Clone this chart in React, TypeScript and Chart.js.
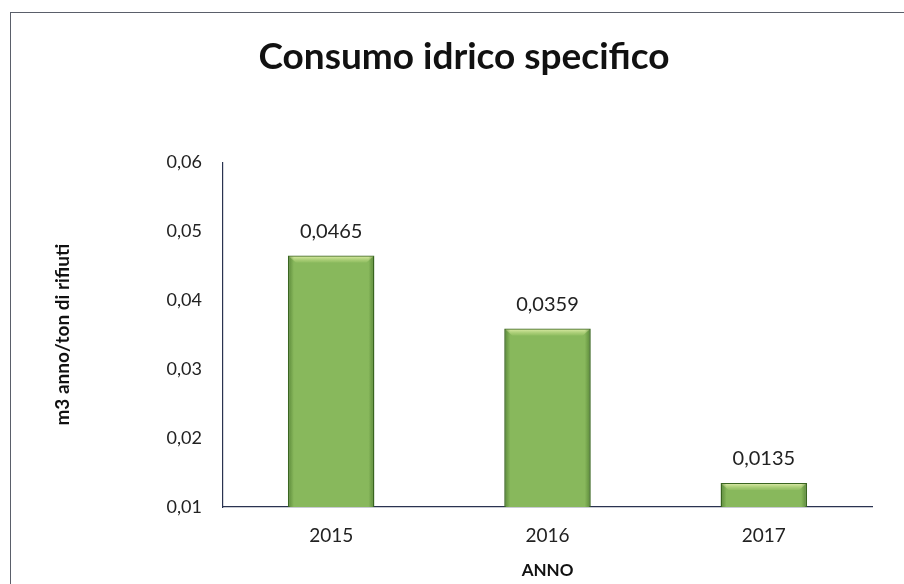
import React, { useEffect, useRef } from "react";
import { Chart, registerables } from "chart.js";

Chart.register(...registerables);

const categories = ["2015", "2016", "2017"];
const values = [0.0465, 0.0359, 0.0135];
const valueLabels = ["0,0465", "0,0359", "0,0135"];
const yMin = 0.01;
const yMax = 0.06;
const yStep = 0.01;
const chartTitle = "Consumo idrico specifico";
const yTitle = "m3 anno/ton di rifiuti";
const xTitle = "ANNO";

const FONT = "Lato, 'Open Sans', sans-serif";

const bevelPlugin = {
  id: "bevel",
  afterDatasetsDraw(chart: any) {
    const ctx = chart.ctx;
    const meta = chart.getDatasetMeta(0);
    const area = chart.chartArea;
    ctx.save();
    ctx.beginPath();
    ctx.rect(area.left, area.top, area.right - area.left, area.bottom - area.top);
    ctx.clip();
    meta.data.forEach((bar: any) => {
      const w = bar.width;
      const left = bar.x - w / 2;
      const top = bar.y;
      const bottom = Math.min(bar.base, area.bottom);
      const h = bottom - top - 1;
      const bevel = 7;
      const g = ctx.createLinearGradient(0, top, 0, top + bevel);
      g.addColorStop(0, "rgba(235,245,180,0.95)");
      g.addColorStop(1, "rgba(190,220,130,0.2)");
      ctx.fillStyle = g;
      ctx.beginPath();
      ctx.moveTo(left + 1, top + 1);
      ctx.lineTo(left + w - 1, top + 1);
      ctx.lineTo(left + w - 1 - bevel, top + bevel);
      ctx.lineTo(left + 1 + bevel, top + bevel);
      ctx.closePath();
      ctx.fill();
      const gl = ctx.createLinearGradient(left, 0, left + 6, 0);
      gl.addColorStop(0, "rgba(50,95,25,0.55)");
      gl.addColorStop(1, "rgba(50,95,25,0)");
      ctx.fillStyle = gl;
      ctx.fillRect(left + 1, top + 1, 6, h);
      const gr = ctx.createLinearGradient(left + w - 6, 0, left + w, 0);
      gr.addColorStop(0, "rgba(50,95,25,0)");
      gr.addColorStop(1, "rgba(50,95,25,0.55)");
      ctx.fillStyle = gr;
      ctx.fillRect(left + w - 7, top + 1, 6, h);
    });
    ctx.restore();
  },
};

const valueLabelPlugin = {
  id: "valueLabels",
  afterDatasetsDraw(chart: any) {
    const ctx = chart.ctx;
    const meta = chart.getDatasetMeta(0);
    ctx.save();
    ctx.font = `20px ${FONT}`;
    ctx.fillStyle = "#222";
    ctx.textAlign = "center";
    ctx.textBaseline = "middle";
    meta.data.forEach((bar: any, i: number) => {
      ctx.fillText(valueLabels[i], bar.x, bar.y - 24);
    });
    ctx.restore();
  },
};

export default function App() {
  const ref = useRef<HTMLCanvasElement | null>(null);
  useEffect(() => {
    if (!ref.current) return;
    const chart = new Chart(ref.current, {
      type: "bar",
      data: {
        labels: categories,
        datasets: [
          {
            data: values,
            backgroundColor: "#88b85c",
            borderColor: "#3a6620",
            borderWidth: 1.5,
            barPercentage: 0.8,
            categoryPercentage: 0.5,
          },
        ],
      },
      options: {
        animation: false,
        responsive: false,
        maintainAspectRatio: false,
        layout: { padding: { left: 56, right: 32, top: 0, bottom: 0 } },
        plugins: {
          legend: { display: false },
          tooltip: { enabled: false },
          title: {
            display: true,
            text: chartTitle,
            color: "#111",
            font: { family: FONT, size: 37, weight: "bold" },
            padding: { top: 35, bottom: 83 },
          },
        },
        scales: {
          y: {
            min: yMin,
            max: yMax,
            ticks: {
              stepSize: yStep,
              color: "#222",
              padding: 21,
              font: { family: FONT, size: 18 },
              callback: (v: any) => Number(v).toFixed(2).replace(".", ","),
            },
            grid: { display: false, drawTicks: false },
            border: { display: true, color: "#2a3350", width: 1.2 },
            title: {
              display: true,
              text: yTitle,
              color: "#111",
              font: { family: FONT, size: 19, weight: "bold" },
              padding: { top: -5, bottom: 0 },
            },
            afterFit: (scale: any) => {
              scale.width = 167;
            },
          },
          x: {
            ticks: {
              color: "#222",
              padding: 17,
              font: { family: FONT, size: 19 },
            },
            grid: { display: false, drawTicks: false },
            border: { display: true, color: "#2a3350", width: 1.2 },
            title: {
              display: true,
              text: xTitle,
              color: "#111",
              font: { family: FONT, size: 17, weight: "bold" },
              padding: { top: 4, bottom: 3 },
            },
            afterFit: (scale: any) => {
              scale.height = 77;
            },
          },
        },
      },
      plugins: [bevelPlugin, valueLabelPlugin],
    });
    return () => chart.destroy();
  }, []);

  return (
    <div
      style={{
        position: "fixed",
        left: 0,
        top: 0,
        width: 904,
        height: 584,
        overflow: "hidden",
        background: "#fff",
      }}
    >
      <div
        style={{
          position: "absolute",
          left: 10,
          top: 12,
          right: -10,
          bottom: -10,
          border: "1.5px solid #5a5f6a",
        }}
      />
      <canvas
        ref={ref}
        width={904}
        height={584}
        style={{ position: "absolute", left: 0, top: 0 }}
      />
    </div>
  );
}
